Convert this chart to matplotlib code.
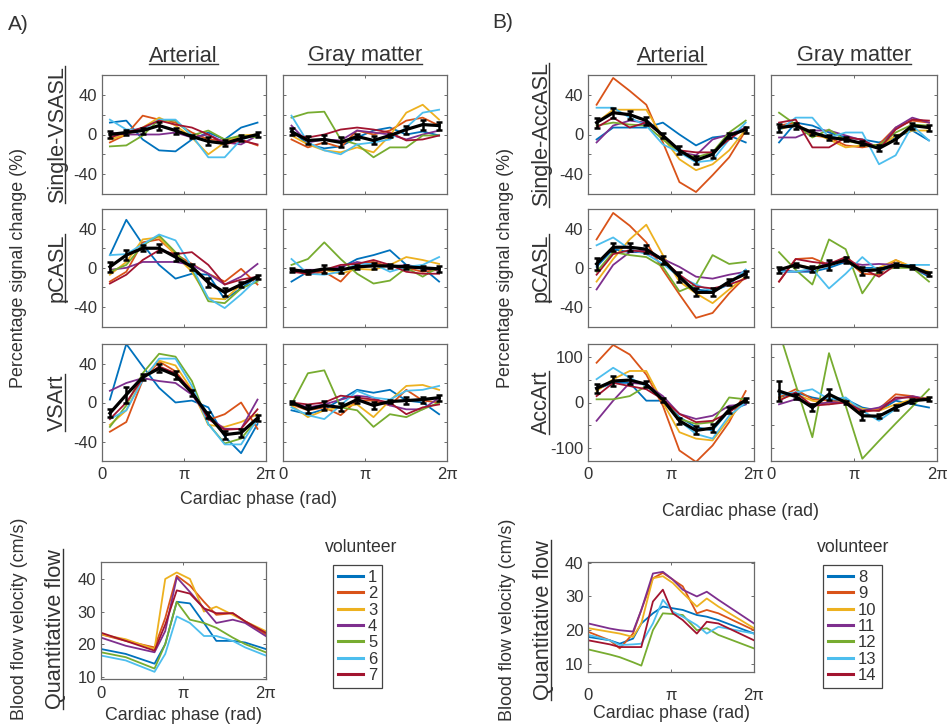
import numpy as np
import matplotlib
matplotlib.use('Agg')
import matplotlib.pyplot as plt
from matplotlib.lines import Line2D

plt.rcParams['font.family'] = ['Liberation Sans', 'DejaVu Sans']

# ---------------- data ----------------
phase_pi = [0.1, 0.3, 0.5, 0.7, 0.9, 1.1, 1.3, 1.5, 1.7, 1.9]
vol_colors = ['#0072BD', '#D95319', '#EDB120', '#7E2F8E', '#77AC30', '#4DBEEE', '#A2142F']
volunteers_A = ['1', '2', '3', '4', '5', '6', '7']
volunteers_B = ['8', '9', '10', '11', '12', '13', '14']
x_tick_labels = ['0', 'π', '2π']

# Panel A, Single-VSASL
A_svs_art = [[12, 14, -5, -16, -17, -5, 2, -5, 7, 12],
             [-8, 0, 19, 15, 12, 2, -5, -6, -5, -11],
             [-5, 0, 7, 17, 9, -3, -20, -8, -1, 0],
             [2, 0, 0, 0, 2, -3, 0, -8, -10, -1],
             [-12, -11, -1, 15, 14, -1, 4, -5, -1, -3],
             [15, 5, 5, 15, 15, -1, -23, -23, -5, 0],
             [-3, 2, 7, 14, 10, 7, 0, -10, -6, -10]]
A_svs_art_mean = [0, 2, 4, 9, 4, -2, -7, -9, -4, 0]
A_svs_art_err = [4, 3, 3, 4, 3, 2, 4, 3, 3, 3]
A_svs_gm = [[4, -10, -14, -12, -3, 4, 7, 0, 3, -1],
            [-5, -13, -8, -13, 4, 0, 4, 14, 17, 9],
            [-1, -10, -16, -18, -13, -18, -1, 22, 30, 15],
            [9, -8, -5, -6, 4, 2, 0, -5, 0, 4],
            [17, 22, 23, -5, -10, -23, -13, -13, -1, -1],
            [19, -8, -16, -20, -10, -8, -5, 7, 22, 25],
            [0, -3, 0, 5, 7, 5, 2, -6, -5, -1]]
A_svs_gm_mean = [3, -6, -5, -8, -2, -6, -1, 5, 10, 9]
A_svs_gm_err = [4, 4, 4, 5, 3, 4, 2, 4, 5, 4]

# Panel A, pCASL
A_pc_art = [[13, 49, 24, 3, -11, -6, -7, -32, -21, -9],
            [-14, -4, 26, 29, 14, 4, -6, -14, -1, -17],
            [-7, 6, 29, 31, 13, -4, -31, -32, -17, -9],
            [-2, 0, 6, 6, 6, 3, -6, -17, -9, 4],
            [-4, 3, 23, 33, 16, -1, -34, -36, -21, -14],
            [13, 14, 24, 34, 28, 1, -31, -41, -27, -11],
            [-16, -7, 8, 18, 14, 16, 3, -17, -12, -9]]
A_pc_art_mean = [1, 13, 20, 20, 11, 1, -15, -25, -17, -9]
A_pc_art_err = [5, 5, 3, 4, 4, 3, 5, 4, 3, 2]
A_pc_gm = [[-14, -4, -2, 0, 9, 13, 18, 3, 0, -14],
           [-2, -7, -4, -14, 4, 6, 1, 0, -4, -2],
           [-1, -4, -2, -6, -1, -2, 3, 11, 8, 4],
           [-2, -2, -2, 1, 6, 3, 1, 3, -1, -2],
           [3, 9, 26, 9, -6, -16, -13, 0, -9, 1],
           [9, -6, -7, -4, 4, 4, -4, 1, 3, 11],
           [-4, -6, -2, 3, 4, 8, 3, -4, -6, -6]]
A_pc_gm_mean = [-2, -4, -1, -2, 1, 2, 2, 1, 0, -1]
A_pc_gm_err = [2, 2, 4, 3, 2, 3, 2, 2, 2, 3]

# Panel A, VSArt
A_va_art = [[3, 60, 37, 15, 0, 2, -5, -35, -52, -22],
            [-30, -20, 23, 42, 32, 10, -18, -12, 0, -27],
            [-23, -8, 25, 43, 38, 13, -23, -25, -20, -12],
            [12, 20, 25, 22, 20, 8, -15, -27, -27, 3],
            [-25, -3, 30, 50, 47, 22, -22, -42, -37, -17],
            [-17, -8, 23, 45, 45, 17, -22, -43, -43, -17],
            [-17, 0, 25, 37, 30, 12, -17, -28, -27, -7]]
A_va_art_mean = [-11, 8, 26, 35, 28, 10, -13, -33, -31, -16]
A_va_art_err = [4, 8, 3, 4, 4, 3, 3, 4, 4, 3]
A_va_gm = [[-8, -12, -7, 3, 13, 10, 13, 2, 0, -12],
           [-2, -8, -5, -13, 2, 2, -3, 13, 2, 0],
           [-3, -15, -8, -5, -2, -15, 2, 17, 18, 13],
           [0, -5, -2, 3, 7, 5, -3, -7, -7, 5],
           [-2, 30, 33, -5, -8, -25, -12, -15, -7, 0],
           [-5, -13, -17, -3, 12, 5, 3, 12, 13, 17],
           [0, -2, 0, 7, 5, 3, 0, -12, -5, -2]]
A_va_gm_mean = [0, -7, -3, -5, 3, -3, 1, 2, 3, 5]
A_va_gm_err = [2, 4, 5, 4, 3, 4, 2, 4, 3, 3]

# Panel B, Single-AccASL
B_sa_art = [[-5, 7, 7, 7, 12, 0, -11, -3, -1, -8],
            [30, 57, 44, 30, -8, -48, -58, -41, -23, 4],
            [12, 25, 25, 25, -3, -25, -36, -30, -16, 5],
            [-8, 9, 14, 12, -1, -18, -21, -5, 0, 7],
            [9, 12, 10, 9, -5, -18, -23, -18, 2, 14],
            [27, 27, 17, 9, -10, -18, -28, -26, -5, 12],
            [7, 17, 7, 12, -1, -16, -18, -18, -5, 7]]
B_sa_art_mean = [12, 22, 20, 14, -1, -16, -26, -20, -1, 5]
B_sa_art_err = [5, 5, 4, 4, 3, 4, 4, 4, 3, 3]
B_sa_gm = [[-8, 12, 9, 2, -3, -5, -8, -3, 4, -6],
           [9, 12, -1, -3, -11, -13, -10, 7, 14, 12],
           [5, 10, 2, -5, -13, -11, -13, -1, 4, 4],
           [-3, -3, 4, 4, -1, -6, -13, 7, 17, 12],
           [22, 10, -3, 5, -6, -10, -11, 2, 10, 9],
           [4, 17, 17, -3, 2, 2, -30, -21, 9, -6],
           [12, 15, -13, -13, -3, -5, -15, 5, 15, 14]]
B_sa_gm_mean = [7, 9, 2, -3, -5, -9, -14, -5, 9, 7]
B_sa_gm_err = [4, 3, 3, 3, 2, 2, 3, 4, 3, 3]

# Panel B, pCASL
B_pc_art = [[1, 19, 16, 16, 8, -11, -22, -24, -17, -2],
            [29, 56, 43, 26, -2, -27, -51, -46, -26, -9],
            [-14, 9, 29, 44, 13, -14, -26, -36, -22, -9],
            [-22, 3, 16, 18, 9, 1, -9, -11, -7, -4],
            [-4, 16, 13, 11, 1, -24, -17, 13, 4, 6],
            [23, 31, 19, 14, 4, -9, -17, -24, -16, -2],
            [-7, 14, 18, 16, 8, -7, -19, -21, -17, -11]]
B_pc_art_mean = [4, 21, 21, 19, 8, -9, -25, -25, -14, -6]
B_pc_art_err = [6, 4, 4, 4, 4, 5, 4, 4, 3, 3]
B_pc_gm = [[-2, -4, -4, 0, 6, 0, 0, 3, 0, -9],
           [-14, 9, 10, 3, 9, -6, -7, 8, 0, -7],
           [-2, 3, 0, 3, 8, -4, 0, 8, 1, -4],
           [-4, -4, -2, 6, 6, 3, 4, 3, 0, -7],
           [16, -2, -17, 29, 19, -26, -2, 0, 0, -14],
           [-4, -4, -1, -21, -6, 11, -4, 3, 3, 3],
           [-14, 9, 6, 4, 11, -1, -9, 3, 1, -6]]
B_pc_gm_mean = [-2, 3, -1, 3, 8, -3, -2, 3, 1, -6]
B_pc_gm_err = [3, 2, 3, 5, 3, 4, 2, 2, 2, 2]

# Panel B, AccArt
B_aa_art = [[29, 43, 43, 4, 4, -32, -54, -61, -18, -4],
            [87, 126, 105, 61, -7, -105, -130, -94, -43, 25],
            [25, 51, 69, 69, 0, -65, -79, -83, -36, 7],
            [-40, 4, 43, 40, 14, -25, -36, -29, -7, -4],
            [7, 7, 14, 36, 7, -36, -47, -43, 11, 7],
            [51, 76, 54, 36, 7, -40, -69, -79, -29, 0],
            [14, 43, 36, 29, 7, -25, -43, -40, -22, 7]]
B_aa_art_mean = [31, 47, 49, 40, 6, -40, -61, -56, -16, 5]
B_aa_art_err = [10, 10, 8, 6, 4, 7, 9, 9, 6, 4]
B_aa_gm = [[11, 22, 11, 4, 7, -11, -18, 4, -4, -11],
           [11, 29, 7, 4, 0, -22, -14, 18, 14, 4],
           [7, 18, 4, -4, 4, -14, -18, -4, 7, 11],
           [-4, 7, -4, 0, 0, -18, -11, 7, 14, 7],
           [155, 39, -76, 108, -7, -123, -84, -46, -9, 29],
           [18, 22, 29, 7, 11, -18, -40, -14, 7, 7],
           [4, 22, -7, -4, 0, -18, -18, 11, 11, 7]]
B_aa_gm_mean = [25, 13, -11, 18, 0, -29, -30, -11, 4, 7]
B_aa_gm_err = [22, 6, 8, 12, 4, 10, 5, 5, 4, 4]

# Quantitative flow (blood flow velocity, cm/s)
A_flow_phase_pi = [0, 0.3, 0.65, 0.78, 0.92, 1.08, 1.25, 1.4, 1.6, 1.75, 2.0]
A_flow = [[18.5, 17.0, 14.0, 20.0, 33.0, 32.5, 26.5, 21.0, 21.0, 20.5, 18.5],
          [23.0, 21.0, 19.0, 28.0, 41.0, 38.0, 33.0, 29.0, 29.5, 27.0, 23.0],
          [23.0, 21.5, 18.5, 40.0, 42.0, 40.0, 30.0, 31.5, 29.0, 27.0, 24.0],
          [22.0, 19.5, 17.5, 24.0, 40.5, 36.0, 31.0, 26.5, 27.5, 26.5, 22.5],
          [17.5, 16.0, 12.5, 20.0, 33.0, 27.5, 26.5, 25.0, 22.0, 20.0, 17.5],
          [16.5, 15.0, 11.5, 17.0, 28.5, 26.5, 22.5, 22.5, 21.0, 19.0, 16.5],
          [23.5, 21.0, 18.0, 26.0, 36.5, 35.5, 31.0, 29.5, 29.5, 27.0, 23.5]]
B_flow_phase_pi = [0, 0.26, 0.38, 0.54, 0.64, 0.78, 0.9, 1.02, 1.14, 1.31, 1.43, 1.57, 2.0]
B_flow = [[18, 17, 16, 17.5, 22, 25, 27, 26.5, 26, 24.5, 24, 23, 19],
          [19.5, 17, 14.6, 19, 26, 35.4, 37, 35, 33, 25, 26, 25, 20],
          [20.6, 19.5, 19, 18, 22, 35.4, 36, 34, 31, 27, 29.4, 27, 20.6],
          [22, 20.5, 20, 19.6, 26, 36.8, 37.3, 35, 32, 30, 31.4, 29, 22],
          [14.3, 12.8, 12, 10.5, 9.5, 20, 25, 24.8, 24.5, 20, 20.6, 18.6, 14.6],
          [18.6, 17, 15.6, 15.8, 16, 22, 29, 25.5, 24, 21.5, 19, 21, 19],
          [17, 15.8, 15, 15, 15, 28.5, 32, 25, 23, 19, 22.5, 22, 17]]

# ---------------- figure ----------------
W, H = 947, 724
fig = plt.figure(figsize=(W / 100, H / 100), dpi=100)
TC = '#333333'
SPC = '#6a6a6a'


def add_ax(x0, y0, x1, y1):
    return fig.add_axes([x0 / W, 1 - y1 / H, (x1 - x0) / W, (y1 - y0) / H])


def style(ax, ylim, yt, ytl, ymin, xlab, ylab, xpad=4):
    ax.set_xlim(0, 2 * np.pi)
    ax.set_ylim(*ylim)
    ax.set_xticks([0, np.pi, 2 * np.pi])
    ax.set_xticklabels(x_tick_labels if xlab else [])
    ax.set_yticks(yt)
    ax.set_yticklabels(ytl if ylab else [])
    ax.set_yticks(ymin, minor=True)
    ax.tick_params(which='both', direction='in', top=True, right=True, length=2.5,
                   width=0.6, color='#555555', labelsize=12, labelcolor=TC, pad=3.5)
    ax.tick_params(axis='x', pad=xpad)
    for sp in ax.spines.values():
        sp.set_color(SPC)
        sp.set_linewidth(0.9)


def draw_panel(ax, series, mean, err):
    ph = np.array(phase_pi) * np.pi
    for s, c in zip(series, vol_colors):
        ax.plot(ph, s, color=c, lw=1.3, zorder=2)
    ax.errorbar(ph, mean, yerr=err, color='k', lw=2.3, elinewidth=1.8,
                capsize=2.5, capthick=1.8, zorder=5)


colsA = [(101.7, 265.7), (283.3, 447.3)]
colsB = [(588.3, 754.0), (770.7, 937.3)]
rows = [(75, 194), (209, 326.7), (344, 461)]

std_lim = (-60, 60)
std_t = [-40, 0, 40]
std_tl = ['-40', '0', '40']
std_min = [-20, 20]
acc_lim = (-128, 128)
acc_t = [-100, 0, 100]
acc_tl = ['-100', '0', '100']
acc_min = [-50, 50]

panelsA = [(A_svs_art, A_svs_art_mean, A_svs_art_err, A_svs_gm, A_svs_gm_mean, A_svs_gm_err),
           (A_pc_art, A_pc_art_mean, A_pc_art_err, A_pc_gm, A_pc_gm_mean, A_pc_gm_err),
           (A_va_art, A_va_art_mean, A_va_art_err, A_va_gm, A_va_gm_mean, A_va_gm_err)]
panelsB = [(B_sa_art, B_sa_art_mean, B_sa_art_err, B_sa_gm, B_sa_gm_mean, B_sa_gm_err),
           (B_pc_art, B_pc_art_mean, B_pc_art_err, B_pc_gm, B_pc_gm_mean, B_pc_gm_err),
           (B_aa_art, B_aa_art_mean, B_aa_art_err, B_aa_gm, B_aa_gm_mean, B_aa_gm_err)]

for cols, panels, lastacc in [(colsA, panelsA, False), (colsB, panelsB, True)]:
    for r, (y0, y1) in enumerate(rows):
        pdat = panels[r]
        for c, (x0, x1) in enumerate(cols):
            ax = add_ax(x0, y0, x1, y1)
            draw_panel(ax, pdat[3 * c], pdat[3 * c + 1], pdat[3 * c + 2])
            if lastacc and r == 2:
                style(ax, acc_lim, acc_t, acc_tl, acc_min, True, c == 0)
            else:
                style(ax, std_lim, std_t, std_tl, std_min, r == 2, c == 0)

# flow panels
flow_handles = {}
for key, box, phases, data, labels, xpad in [
        ('A', (101.0, 561.7, 265.7, 679.0), A_flow_phase_pi, A_flow, volunteers_A, 5),
        ('B', (588.3, 561.7, 754.0, 671.7), B_flow_phase_pi, B_flow, volunteers_B, 12)]:
    ax = add_ax(*box)
    ph = np.array(phases) * np.pi
    hs = []
    for s, c, lab in zip(data, vol_colors, labels):
        h, = ax.plot(ph, s, color=c, lw=1.3, label=lab)
        hs.append(h)
    if key == 'A':
        style(ax, (9.3, 45.3), [10, 20, 30, 40], ['10', '20', '30', '40'], [], True, True, xpad)
    else:
        style(ax, (7.7, 40.3), [10, 20, 30, 40], ['10', '20', '30', '40'], [], True, True, xpad)
    flow_handles[key] = (hs, labels)

# legends
for key, (lx, ly), (tx, ty) in [('A', (333, 565), (361, 548)), ('B', (823, 565), (853, 548))]:
    hs, labels = flow_handles[key]
    handles = [Line2D([0], [0], color=h.get_color(), lw=2.2) for h in hs]
    leg = fig.legend(handles, labels, loc='upper left', bbox_to_anchor=(lx / W, 1 - ly / H),
                     fontsize=12, labelspacing=0.08, handlelength=1.5, handletextpad=0.3,
                     borderpad=0.3, borderaxespad=0, frameon=True, fancybox=False,
                     framealpha=1, edgecolor='#444444')
    leg.get_frame().set_linewidth(0.9)
    for t in leg.get_texts():
        t.set_color(TC)
    fig.text(tx / W, 1 - ty / H, 'volunteer', ha='center', va='center', fontsize=12.7, color=TC)

# ---------------- texts ----------------
def ftext(x, y, s, **kw):
    return fig.text(x / W, 1 - y / H, s, color=TC, **kw)


ftext(18, 24, 'A)', fontsize=15, ha='center', va='center')
ftext(503, 23, 'B)', fontsize=15, ha='center', va='center')

ftext(19, 268, 'Percentage signal change (%)', fontsize=12.9, rotation=90, ha='center', va='center')
ftext(506, 268, 'Percentage signal change (%)', fontsize=12.9, rotation=90, ha='center', va='center')
ftext(258.5, 499, 'Cardiac phase (rad)', fontsize=12.8, ha='center', va='center')
ftext(740, 512, 'Cardiac phase (rad)', fontsize=12.8, ha='center', va='center')
ftext(20, 619, 'Blood flow velocity (cm/s)', fontsize=12.9, rotation=90, ha='center', va='center')
ftext(508, 620, 'Blood flow velocity (cm/s)', fontsize=12.9, rotation=90, ha='center', va='center')
ftext(183.4, 715, 'Cardiac phase (rad)', fontsize=12.8, ha='center', va='center')
ftext(671, 713, 'Cardiac phase (rad)', fontsize=12.8, ha='center', va='center')

underlined = []
for x, y, s, rot in [
        (183.7, 61.5, 'Arterial', 0), (365.3, 61.5, 'Gray matter', 0),
        (671.2, 61.5, 'Arterial', 0), (854.0, 61.5, 'Gray matter', 0),
        (63.0, 134.5, 'Single-VSASL', 90), (63.0, 267.8, 'pCASL', 90), (63.0, 402.5, 'VSArt', 90),
        (547.0, 134.5, 'Single-AccASL', 90), (547.0, 267.8, 'pCASL', 90), (547.0, 402.5, 'AccArt', 90),
        (61.0, 629, 'Quantitative flow', 90), (549.0, 620, 'Quantitative flow', 90)]:
    t = ftext(x, y, s, fontsize=15.6, rotation=rot, rotation_mode='anchor',
              ha='center', va='baseline')
    underlined.append((t, x, y, rot))

fig.canvas.draw()
renderer = fig.canvas.get_renderer()
for t, x, y, rot in underlined:
    bb = t.get_window_extent(renderer)
    if rot == 0:
        yl = H - y + 2.2  # pixel from bottom
        yl = (H - y) - 2.2
        fig.add_artist(Line2D([bb.x0 / W, bb.x1 / W], [yl / H, yl / H],
                              color=TC, lw=1.0, transform=fig.transFigure))
    else:
        xl = x + 2.2
        fig.add_artist(Line2D([xl / W, xl / W], [bb.y0 / H, bb.y1 / H],
                              color=TC, lw=1.0, transform=fig.transFigure))

fig.savefig('out.png', dpi=100)
